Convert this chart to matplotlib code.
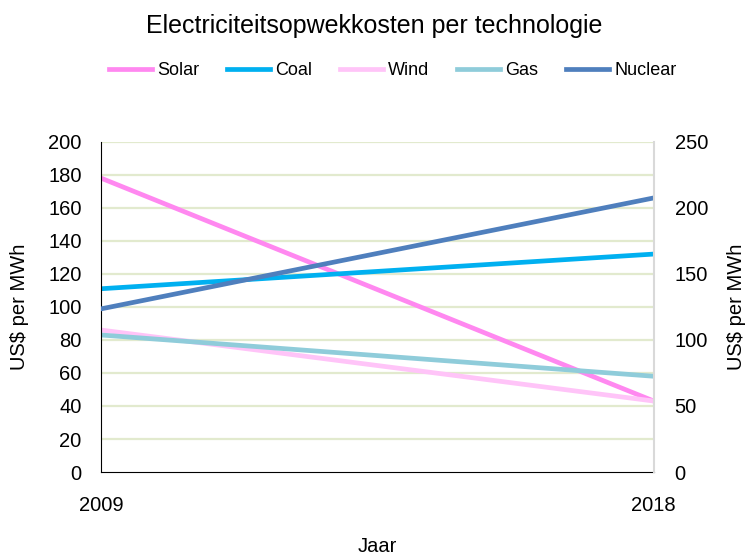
import matplotlib
matplotlib.use('Agg')
import matplotlib.pyplot as plt

plt.rcParams['font.family'] = ['Liberation Sans', 'DejaVu Sans']

years = [2009, 2018]
solar = [178, 43]
coal = [111, 132]
wind = [86, 43]
gas = [83, 58]
nuclear = [123.5, 207.5]  # right axis

fig = plt.figure(figsize=(7.48, 5.56), dpi=100)
ax = fig.add_axes([0.135, 0.151, 0.739, 0.594])
ax2 = ax.twinx()

lw = 3.4
l1, = ax.plot(years, solar, color='#FF88F0', lw=lw, label='Solar')
l2, = ax.plot(years, coal, color='#00B0F0', lw=lw, label='Coal')
l3, = ax.plot(years, wind, color='#FFC4F8', lw=lw, label='Wind')
l4, = ax.plot(years, gas, color='#8FCCDA', lw=lw, label='Gas')
l5, = ax2.plot(years, nuclear, color='#4F7FBD', lw=lw, label='Nuclear')

ax.set_xlim(2009, 2018)
ax.set_ylim(0, 200)
ax2.set_ylim(0, 250)
ax.set_yticks(range(0, 201, 20))
ax2.set_yticks(range(0, 251, 50))
ax.set_xticks(years)
for y in range(20, 201, 20):
    ax.axhline(y, color='#E2EACE', lw=1.6, zorder=0)

for a in (ax, ax2):
    a.spines['top'].set_visible(False)
    a.tick_params(length=0, labelsize=14.5)
ax.spines['left'].set_color('black')
ax.spines['bottom'].set_color('black')
ax.spines['right'].set_visible(False)
ax2.spines['left'].set_visible(False)
ax2.spines['bottom'].set_visible(False)
ax2.spines['right'].set_color('#D9D9D9')
ax2.spines['right'].set_linewidth(1.5)
ax.tick_params(axis='x', pad=17)
ax.tick_params(axis='y', pad=14)
ax2.tick_params(axis='y', pad=15)

ax.set_xlabel('Jaar', fontsize=14.5, labelpad=16)
ax.set_ylabel('US$ per MWh', fontsize=14.5, labelpad=14)
ax2.set_ylabel('US$ per MWh', fontsize=14.5, labelpad=14)

fig.suptitle('Electriciteitsopwekkosten per technologie', fontsize=18, y=0.975)
fig.legend(handles=[l1, l2, l3, l4, l5], loc='center', bbox_to_anchor=(0.525, 0.873),
           ncol=5, frameon=False, fontsize=13, handlelength=2.4, handletextpad=0.3,
           columnspacing=1.5)

fig.savefig('out.png', dpi=100)
